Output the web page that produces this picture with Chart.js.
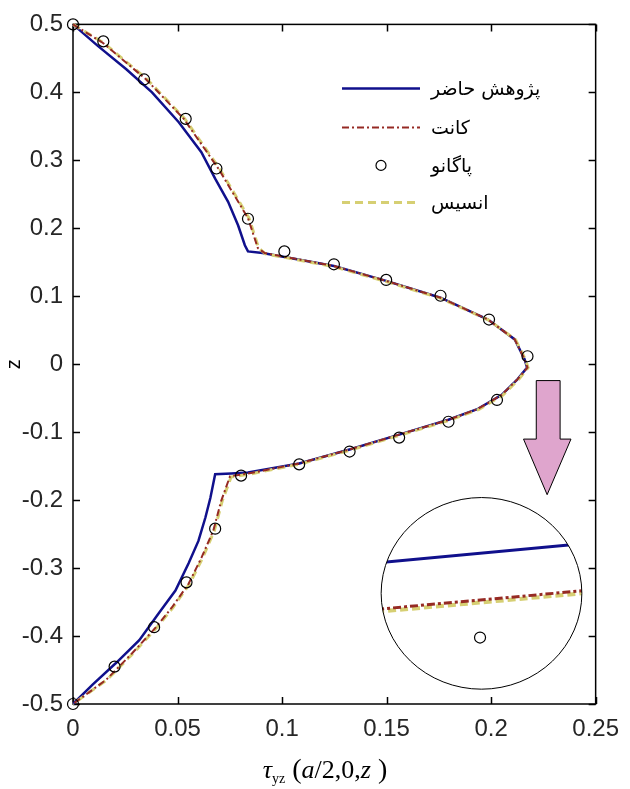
<!DOCTYPE html>
<html>
<head>
<meta charset="utf-8">
<script src="https://cdn.jsdelivr.net/npm/chart.js@4.4.1/dist/chart.umd.min.js"></script>
<style>
html, body { margin: 0; padding: 0; background: #fff; }
</style>
</head>
<body>
<canvas id="grafico" width="630" height="789"></canvas>
<script>
// Ticks de los ejes
const ticksX = [0, 0.05, 0.1, 0.15, 0.2, 0.25];
const etiquetasX = ['0', '0.05', '0.1', '0.15', '0.2', '0.25'];
const ticksZ = [-0.5, -0.4, -0.3, -0.2, -0.1, 0, 0.1, 0.2, 0.3, 0.4, 0.5];
const etiquetasZ = ['-0.5', '-0.4', '-0.3', '-0.2', '-0.1', '0', '0.1', '0.2', '0.3', '0.4', '0.5'];

// Nombres de las series (leyenda)
const nombres = ['پژوهش حاضر', 'کانت', 'پاگانو', 'انسیس'];

// Serie 1: پژوهش حاضر (linea azul)
const presenteX = [0, 0.0120, 0.0255, 0.0378, 0.0506, 0.0614, 0.0680, 0.0742, 0.0790, 0.0822, 0.0837, 0.0907, 0.1248, 0.1498, 0.1758, 0.1985, 0.2113, 0.2160, 0.2172, 0.2127, 0.2051, 0.1937, 0.1796, 0.1560, 0.1323, 0.1082, 0.0837, 0.0757, 0.0680, 0.0657, 0.0633, 0.0600, 0.0553, 0.0490, 0.0411, 0.0317, 0.0208, 0.0095, 0];
const presenteZ = [0.5, 0.468, 0.434, 0.400, 0.356, 0.312, 0.273, 0.239, 0.204, 0.175, 0.166, 0.1635, 0.1445, 0.1226, 0.0978, 0.0657, 0.0365, 0.0073, -0.005, -0.022, -0.045, -0.0657, -0.0818, -0.1036, -0.1255, -0.146, -0.1595, -0.161, -0.162, -0.197, -0.226, -0.260, -0.293, -0.333, -0.366, -0.406, -0.439, -0.471, -0.5];

// Serie 2: کانت (punto-raya)
const kantX = [0, 0.0142, 0.0350, 0.0530, 0.0695, 0.0837, 0.0884, 0.0917, 0.1248, 0.1498, 0.1758, 0.1985, 0.2113, 0.2160, 0.2174, 0.2127, 0.2051, 0.1937, 0.1796, 0.1560, 0.1323, 0.1082, 0.0837, 0.0751, 0.0709, 0.0671, 0.0614, 0.0553, 0.0473, 0.0397, 0.0284, 0.0160, 0];
const kantZ = [0.5, 0.473, 0.419, 0.361, 0.288, 0.215, 0.171, 0.1635, 0.1445, 0.1226, 0.0978, 0.0657, 0.0365, 0.0073, -0.005, -0.022, -0.045, -0.0657, -0.0818, -0.1036, -0.1255, -0.146, -0.161, -0.165, -0.201, -0.245, -0.285, -0.323, -0.358, -0.387, -0.425, -0.464, -0.5];

// Serie 3: پاگانو (circulos)
const paganoX = [0, 0.0145, 0.0340, 0.0539, 0.0686, 0.0837, 0.1011, 0.1248, 0.1498, 0.1758, 0.1990, 0.2174, 0.2028, 0.1796, 0.1560, 0.1323, 0.1082, 0.0804, 0.0680, 0.0543, 0.0388, 0.0199, 0];
const paganoZ = [0.5, 0.475, 0.419, 0.361, 0.288, 0.214, 0.166, 0.147, 0.124, 0.1007, 0.0657, 0.0117, -0.0526, -0.0847, -0.108, -0.1285, -0.1474, -0.164, -0.242, -0.321, -0.387, -0.445, -0.5];

// Serie 4: انسیس (rayas amarillas)
const ansysX = [0, 0.0146, 0.0355, 0.0535, 0.0700, 0.0842, 0.0888, 0.0920, 0.1248, 0.1498, 0.1760, 0.1988, 0.2117, 0.2164, 0.2177, 0.2130, 0.2054, 0.1940, 0.1798, 0.1562, 0.1325, 0.1084, 0.0840, 0.0756, 0.0714, 0.0676, 0.0620, 0.0558, 0.0478, 0.0402, 0.0289, 0.0164, 0];
const ansysZ = [0.5, 0.473, 0.419, 0.361, 0.288, 0.215, 0.171, 0.1625, 0.1435, 0.1216, 0.0968, 0.0650, 0.0360, 0.0070, -0.005, -0.023, -0.046, -0.0667, -0.0828, -0.1046, -0.1265, -0.147, -0.162, -0.166, -0.201, -0.245, -0.285, -0.323, -0.358, -0.387, -0.425, -0.464, -0.5];

// Lupa (circulo de detalle) en coordenadas de datos
const centroLupa = [0.1954, -0.3372];
const radioLupa = [0.048, 0.141];
const lupaPresenteX = [0.145, 0.245];
const lupaPresenteZ = [-0.2926, -0.2639];
const lupaKantX = [0.145, 0.245];
const lupaKantZ = [-0.3608, -0.3330];
const lupaAnsysX = [0.145, 0.245];
const lupaAnsysZ = [-0.3645, -0.3367];
const lupaPagano = [0.1947, -0.4022];

// Flecha rosa
const flechaX = [0.2216, 0.2330, 0.2330, 0.2382, 0.2268, 0.2155, 0.2216];
const flechaZ = [-0.0241, -0.0241, -0.1102, -0.1102, -0.192, -0.1102, -0.1102];

const puntos = (xs, zs) => xs.map((v, i) => ({ x: v, y: zs[i] }));

const colores = {
    presente: '#10108c',
    kant: '#962a24',
    pagano: '#000000',
    ansys: '#d6cf73'
};

const fuente = '"Liberation Sans", Arial, sans-serif';

// Dibujo de marco, lupa, flecha, leyenda y titulos
const extrasPlugin = {
    id: 'extras',
    beforeDatasetsDraw(chart) {
        const { ctx, chartArea: a, scales: { x, y } } = chart;
        ctx.save();
        ctx.strokeStyle = '#000';
        ctx.lineWidth = 1.5;
        ctx.strokeRect(a.left, a.top, a.right - a.left, a.bottom - a.top);
        ctx.beginPath();
        ticksX.forEach(v => {
            const px = Math.round(x.getPixelForValue(v)) + 0.5;
            ctx.moveTo(px, a.bottom); ctx.lineTo(px, a.bottom - 7);
            ctx.moveTo(px, a.top); ctx.lineTo(px, a.top + 7);
        });
        ticksZ.forEach(v => {
            const py = Math.round(y.getPixelForValue(v)) + 0.5;
            ctx.moveTo(a.left, py); ctx.lineTo(a.left + 7, py);
            ctx.moveTo(a.right, py); ctx.lineTo(a.right - 7, py);
        });
        ctx.stroke();
        ctx.restore();
    },
    afterDatasetsDraw(chart) {
        const { ctx, chartArea: a, scales: { x, y } } = chart;
        const px = v => x.getPixelForValue(v);
        const py = v => y.getPixelForValue(v);

        // Flecha
        ctx.save();
        ctx.beginPath();
        flechaX.forEach((v, i) => {
            if (i === 0) ctx.moveTo(px(v), py(flechaZ[i]));
            else ctx.lineTo(px(v), py(flechaZ[i]));
        });
        ctx.closePath();
        ctx.fillStyle = '#dfa5cd';
        ctx.fill();
        ctx.strokeStyle = '#000';
        ctx.lineWidth = 1;
        ctx.stroke();
        ctx.restore();

        // Lupa
        const cx = px(centroLupa[0]), cy = py(centroLupa[1]);
        const rx = Math.abs(px(centroLupa[0] + radioLupa[0]) - cx);
        const ry = Math.abs(py(centroLupa[1] + radioLupa[1]) - cy);
        ctx.save();
        ctx.beginPath();
        ctx.ellipse(cx, cy, rx, ry, 0, 0, Math.PI * 2);
        ctx.clip();
        const segmento = (xs, zs, color, dash, ancho) => {
            ctx.beginPath();
            ctx.setLineDash(dash);
            ctx.strokeStyle = color;
            ctx.lineWidth = ancho;
            ctx.moveTo(px(xs[0]), py(zs[0]));
            ctx.lineTo(px(xs[1]), py(zs[1]));
            ctx.stroke();
        };
        segmento(lupaAnsysX, lupaAnsysZ, colores.ansys, [8, 4], 4);
        segmento(lupaKantX, lupaKantZ, colores.kant, [8, 3, 3, 3], 3);
        segmento(lupaPresenteX, lupaPresenteZ, colores.presente, [], 3);
        ctx.restore();
        ctx.save();
        ctx.beginPath();
        ctx.ellipse(cx, cy, rx, ry, 0, 0, Math.PI * 2);
        ctx.strokeStyle = '#000';
        ctx.lineWidth = 1;
        ctx.stroke();
        ctx.beginPath();
        ctx.arc(px(lupaPagano[0]), py(lupaPagano[1]), 5.5, 0, Math.PI * 2);
        ctx.lineWidth = 1.2;
        ctx.stroke();
        ctx.restore();

        // Leyenda (dentro del area)
        ctx.save();
        const lx0 = a.left + 269, lx1 = a.left + 347, tx = a.left + 358;
        const filas = [a.top + 64, a.top + 103, a.top + 141, a.top + 178];
        chart.data.datasets.forEach((ds, i) => {
            const fy = filas[i];
            if (ds.showLine) {
                ctx.beginPath();
                ctx.setLineDash(ds.borderDash || []);
                ctx.strokeStyle = ds.borderColor;
                ctx.lineWidth = ds.borderWidth;
                ctx.moveTo(lx0, fy);
                ctx.lineTo(lx1, fy);
                ctx.stroke();
            } else {
                ctx.beginPath();
                ctx.setLineDash([]);
                ctx.strokeStyle = ds.borderColor;
                ctx.lineWidth = 1.2;
                ctx.arc((lx0 + lx1) / 2, fy, 5, 0, Math.PI * 2);
                ctx.stroke();
            }
            ctx.setLineDash([]);
            ctx.fillStyle = '#000';
            ctx.font = '19px "DejaVu Sans", sans-serif';
            ctx.direction = 'rtl';
            ctx.textAlign = 'left';
            ctx.textBaseline = 'middle';
            ctx.fillText(ds.label, tx, fy + 2);
        });
        ctx.restore();

        // Titulo eje z
        ctx.save();
        ctx.translate(14, (a.top + a.bottom) / 2);
        ctx.rotate(-Math.PI / 2);
        ctx.fillStyle = '#000';
        ctx.font = '20px ' + fuente;
        ctx.textAlign = 'center';
        ctx.textBaseline = 'middle';
        ctx.fillText('z', 0, 0);
        ctx.restore();

        // Titulo eje x: tau_yz(a/2,0,z )
        ctx.save();
        const serif = '"Liberation Serif", "Times New Roman", serif';
        const partes = [
            { t: 'τ', f: 'italic 26px ' + serif, dy: 0 },
            { t: 'yz', f: '14px ' + serif, dy: 5 },
            { t: ' (', f: '28px ' + serif, dy: 0 },
            { t: 'a', f: 'italic 26px ' + serif, dy: 0 },
            { t: '/2,0,', f: '26px ' + serif, dy: 0 },
            { t: 'z', f: 'italic 26px ' + serif, dy: 0 },
            { t: ' )', f: '28px ' + serif, dy: 0 }
        ];
        let total = 0;
        partes.forEach(p => { ctx.font = p.f; p.w = ctx.measureText(p.t).width; total += p.w; });
        let cxT = 325 - total / 2;
        const base = 778;
        ctx.fillStyle = '#000';
        ctx.textBaseline = 'alphabetic';
        ctx.textAlign = 'left';
        partes.forEach(p => {
            ctx.font = p.f;
            ctx.fillText(p.t, cxT, base + p.dy);
            cxT += p.w;
        });
        ctx.restore();
    }
};

let chart;
function initGrafico() {
    const ctx = document.getElementById('grafico').getContext('2d');
    chart = new Chart(ctx, {
        type: 'scatter',
        data: {
            datasets: [
                {
                    label: nombres[0],
                    data: puntos(presenteX, presenteZ),
                    showLine: true,
                    borderColor: colores.presente,
                    borderWidth: 2.5,
                    borderDash: [],
                    pointRadius: 0,
                    tension: 0,
                    clip: false,
                    order: 3
                },
                {
                    label: nombres[1],
                    data: puntos(kantX, kantZ),
                    showLine: true,
                    borderColor: colores.kant,
                    borderWidth: 2,
                    borderDash: [7, 3, 2, 3],
                    pointRadius: 0,
                    tension: 0,
                    clip: false,
                    order: 1
                },
                {
                    label: nombres[2],
                    data: puntos(paganoX, paganoZ),
                    showLine: false,
                    borderColor: colores.pagano,
                    backgroundColor: 'rgba(0,0,0,0)',
                    borderWidth: 1.2,
                    pointRadius: 5.5,
                    pointStyle: 'circle',
                    clip: false,
                    order: 0
                },
                {
                    label: nombres[3],
                    data: puntos(ansysX, ansysZ),
                    showLine: true,
                    borderColor: colores.ansys,
                    borderWidth: 3,
                    borderDash: [8, 5],
                    pointRadius: 0,
                    tension: 0,
                    clip: false,
                    order: 2
                }
            ]
        },
        options: {
            responsive: false,
            animation: false,
            devicePixelRatio: 1,
            layout: { padding: { top: 19, right: 28, left: 0, bottom: 0 } },
            plugins: { legend: { display: false }, tooltip: { enabled: false } },
            scales: {
                x: {
                    type: 'linear',
                    min: 0,
                    max: 0.25,
                    grid: { display: false, drawTicks: false },
                    border: { display: false },
                    afterBuildTicks: s => { s.ticks = ticksX.map(v => ({ value: v })); },
                    afterFit: s => { s.height = 85; },
                    ticks: {
                        padding: 11,
                        color: '#262626',
                        font: { family: fuente, size: 24 },
                        maxRotation: 0,
                        callback: (v, i) => etiquetasX[i]
                    }
                },
                y: {
                    type: 'linear',
                    min: -0.5,
                    max: 0.5,
                    grid: { display: false, drawTicks: false },
                    border: { display: false },
                    afterBuildTicks: s => { s.ticks = ticksZ.map(v => ({ value: v })); },
                    afterFit: s => { s.width = 73; },
                    ticks: {
                        padding: 10,
                        color: '#262626',
                        font: { family: fuente, size: 24 },
                        callback: (v, i) => etiquetasZ[i]
                    }
                }
            }
        },
        plugins: [extrasPlugin]
    });
}

window.onload = function () {
    initGrafico();
};
</script>
</body>
</html>
